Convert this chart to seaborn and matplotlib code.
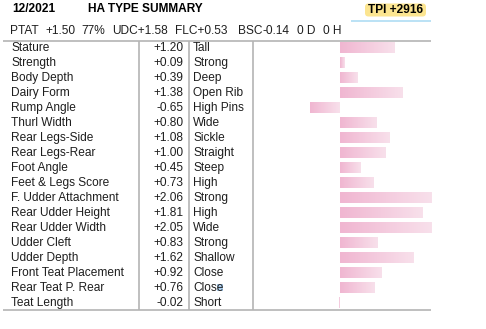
import numpy as np
import pandas as pd
import matplotlib
matplotlib.use("Agg")
import matplotlib.pyplot as plt
import matplotlib.transforms as mtransforms
from matplotlib.patches import FancyBboxPatch, Rectangle
import seaborn as sns

# ---- data -------------------------------------------------------------
report_date = "12/2021"
title = "HA TYPE SUMMARY"
tpi = 2916
ptat, ptat_rel = 1.50, 77
udc, flc, bsc = 1.58, 0.53, -0.14
daughters, herds = 0, 0

traits = ["Stature", "Strength", "Body Depth", "Dairy Form", "Rump Angle",
          "Thurl Width", "Rear Legs-Side", "Rear Legs-Rear", "Foot Angle",
          "Feet & Legs Score", "F. Udder Attachment", "Rear Udder Height",
          "Rear Udder Width", "Udder Cleft", "Udder Depth",
          "Front Teat Placement", "Rear Teat P. Rear", "Teat Length"]
values = [1.20, 0.09, 0.39, 1.38, -0.65, 0.80, 1.08, 1.00, 0.45, 0.73,
          2.06, 1.81, 2.05, 0.83, 1.62, 0.92, 0.76, -0.02]
descriptors = ["Tall", "Strong", "Deep", "Open Rib", "High Pins", "Wide",
               "Sickle", "Straight", "Steep", "High", "Strong", "High",
               "Wide", "Strong", "Shallow", "Close", "Close", "Short"]

df = pd.DataFrame({"trait": traits, "value": values})

# ---- figure -----------------------------------------------------------
sns.set_theme(style="white")
plt.rcParams["font.family"] = ["Liberation Sans", "DejaVu Sans"]

W, H = 486, 329
fig = plt.figure(figsize=(W / 100, H / 100), dpi=100)
fig.patch.set_facecolor("white")

# full-figure layer in pixel units for rules and header
bg = fig.add_axes([0, 0, 1, 1])
bg.set_xlim(0, W)
bg.set_ylim(H, 0)
bg.axis("off")

# bar panel
x0, x1, y0, y1 = 253, 431, 41, 310
ax = fig.add_axes([x0 / W, 1 - y1 / H, (x1 - x0) / W, (y1 - y0) / H])
ax.patch.set_alpha(0)

XLIM = (-1.912, 2.0)
YLIM = (17.50, -0.42)

pink_dark = "#f0b6d1"
pink_light = "#f8e0eb"
sns.barplot(data=df, x="value", y="trait", orient="h", color=pink_dark,
            width=0.73, saturation=1, ax=ax, zorder=2)

# left-to-right pink gradient inside each bar, kept within the panel
cmap = matplotlib.colors.LinearSegmentedColormap.from_list(
    "pinkfade", [pink_dark, pink_light])
grad = np.linspace(0, 1, 64).reshape(1, -1)
for p in list(ax.patches):
    bx, by, bw, bh = p.get_x(), p.get_y(), p.get_width(), p.get_height()
    left = max(min(bx, bx + bw), XLIM[0])
    right = min(max(bx, bx + bw), XLIM[1])
    p.set_x(left)
    p.set_width(right - left)
    p.set_edgecolor("none")
    im = ax.imshow(grad, cmap=cmap, aspect="auto", interpolation="bilinear",
                   extent=(left, right, by + bh, by), zorder=3)
    im.set_clip_path(p)
ax.set_xlim(*XLIM)
ax.set_ylim(*YLIM)
ax.set_axis_off()

# ---- table text -------------------------------------------------------
rows = mtransforms.blended_transform_factory(bg.transData, ax.transData)
fs = 8.6
txt = "#1e1e1e"
for i, (name, v, d) in enumerate(zip(traits, values, descriptors)):
    bg.text(11, i + 0.03, name, transform=rows, ha="left", va="center",
            fontsize=fs, color=txt)
    bg.text(183, i + 0.03, f"{v:+.2f}", transform=rows, ha="right",
            va="center", fontsize=fs, color=txt)
    bg.text(193, i + 0.03, d, transform=rows, ha="left", va="center",
            fontsize=fs, color=txt, zorder=3)

# selection mark on the last "Close"
bg.add_patch(Rectangle((217, 284), 6, 7, facecolor="#a9cdee",
                       edgecolor="none", zorder=2))

# rules
rule = "#b4b4b4"
bg.plot([3, 431], [41, 41], color=rule, lw=1.2, solid_capstyle="butt")
bg.plot([3, 431], [310, 310], color=rule, lw=1.2, solid_capstyle="butt")
for xv in (139, 189, 253):
    bg.plot([xv, xv], [41, 310], color=rule, lw=1.2, solid_capstyle="butt")

# ---- header -----------------------------------------------------------
bg.text(12, 8.5, report_date, ha="left", va="center", fontsize=fs,
        fontweight="bold", color="black")
bg.text(88, 8.5, title, ha="left", va="center", fontsize=fs,
        fontweight="bold", color="black")

bg.add_patch(FancyBboxPatch((365, 3.5), 61, 13,
                            boxstyle="round,pad=0,rounding_size=3.5",
                            facecolor="#fce590", edgecolor="none"))
bg.text(395.5, 10, f"TPI +{tpi}", ha="center", va="center", fontsize=fs,
        fontweight="bold", color="black")
bg.plot([351, 431], [21, 21], color="#a8daf2", lw=1.1,
        solid_capstyle="butt")

summary = [(10, "PTAT"), (45, f"{ptat:+.2f}"), (81.5, f"{ptat_rel}%"),
           (112.5, f"UDC{udc:+.2f}"), (174.5, f"FLC{flc:+.2f}"),
           (237.5, "BSC"), (262, f"{bsc:.2f}"), (297, f"{daughters} D"),
           (323, f"{herds} H")]
for xv, s in summary:
    bg.text(xv, 30.5, s, ha="left", va="center", fontsize=fs, color=txt)

fig.savefig("out.png", dpi=100, facecolor="white")
